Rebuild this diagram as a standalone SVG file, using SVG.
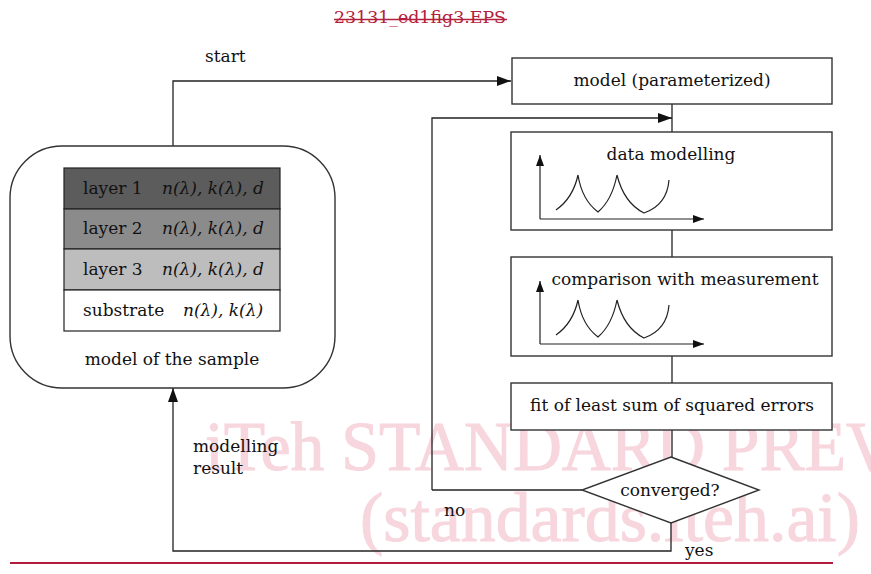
<svg xmlns="http://www.w3.org/2000/svg" width="871" height="574" viewBox="0 0 871 574">
<defs>
<marker id="ah" markerWidth="14" markerHeight="10" refX="14" refY="5" orient="auto" markerUnits="userSpaceOnUse"><path d="M0,0 L14,5 L0,10 Z" fill="#111"/></marker>
<marker id="as" markerWidth="11" markerHeight="8" refX="11" refY="4" orient="auto" markerUnits="userSpaceOnUse"><path d="M0,0 L11,4 L0,8 Z" fill="#111"/></marker>
<style>
.t{font-family:"DejaVu Serif","Liberation Serif",serif;font-size:17px;fill:#111}
.ti{font-family:"DejaVu Serif","Liberation Serif",serif;font-size:17px;font-style:italic;fill:#111}
.box{fill:#fff;stroke:#333;stroke-width:1.4}
.ln{fill:none;stroke:#222;stroke-width:1.3}
.cv{fill:none;stroke:#222;stroke-width:1.2}
.wm{font-family:"Liberation Serif",serif;font-size:70px;fill:#f7d6de;stroke:#f7d6de;stroke-width:1}
</style>
</defs>
<rect width="871" height="574" fill="#fff"/>
<g id="watermark">
<text class="wm" x="205" y="470" textLength="690" lengthAdjust="spacingAndGlyphs">iTeh STANDARD PREV</text>
<text class="wm" x="360" y="541" textLength="500" lengthAdjust="spacingAndGlyphs">(standards.iteh.ai)</text>
</g>
<g id="title">
<text x="420" y="23" text-anchor="middle" textLength="172" lengthAdjust="spacingAndGlyphs" style="font-family:'DejaVu Serif','Liberation Serif',serif;font-size:17px;fill:#b3203c">23131_ed1fig3.EPS</text>
<line x1="334" y1="19.5" x2="507" y2="19.5" stroke="#b3203c" stroke-width="1.6"/>
</g>
<g id="connectors">
<path class="ln" d="M173,146 V81 H511" marker-end="url(#ah)"/>
<path class="ln" d="M672,104 V132"/>
<path class="ln" d="M432,490 V118 H672" marker-end="url(#ah)"/>
<path class="ln" d="M672,230 V257"/>
<path class="ln" d="M672,356 V383"/>
<path class="ln" d="M672,430 V457"/>
<path class="ln" d="M582,490 H432"/>
<path class="ln" d="M671,523 V551 H173 V388" marker-end="url(#ah)"/>
<text class="t" x="205" y="62">start</text>
<text class="t" x="444" y="516">no</text>
<text class="t" x="685" y="556">yes</text>
<text class="t" x="193" y="452">modelling</text>
<text class="t" x="193" y="474">result</text>
</g>
<g id="sample">
<rect class="box" x="10" y="146" width="325" height="242" rx="52" ry="52"/>
<rect x="64" y="168" width="216" height="41" fill="#5c5c5c" stroke="#222" stroke-width="1.2"/>
<rect x="64" y="209" width="216" height="40" fill="#8b8b8b" stroke="#222" stroke-width="1.2"/>
<rect x="64" y="249" width="216" height="41" fill="#bdbdbd" stroke="#222" stroke-width="1.2"/>
<rect x="64" y="290" width="216" height="41" fill="#fff" stroke="#222" stroke-width="1.2"/>
<text class="t" x="83" y="194">layer 1</text><text class="ti" x="162" y="194">n(λ), k(λ), d</text>
<text class="t" x="83" y="234">layer 2</text><text class="ti" x="162" y="234">n(λ), k(λ), d</text>
<text class="t" x="83" y="275">layer 3</text><text class="ti" x="162" y="275">n(λ), k(λ), d</text>
<text class="t" x="83" y="316">substrate</text><text class="ti" x="183" y="316">n(λ), k(λ)</text>
<text class="t" x="172" y="365" text-anchor="middle">model of the sample</text>
</g>
<g id="model">
<rect class="box" x="512" y="58" width="320" height="46"/>
<text class="t" x="672" y="86" text-anchor="middle">model (parameterized)</text>
</g>
<g id="datamodelling">
<rect class="box" x="511" y="132" width="321" height="98"/>
<text class="t" x="671" y="160" text-anchor="middle">data modelling</text>
<path class="cv" d="M540,219 V155" marker-end="url(#as)"/>
<path class="cv" d="M540,219 H704" marker-end="url(#as)"/>
<path class="cv" d="M556,210 Q573,198 578,175 Q582,200 598,212 Q612,200 617,175 Q624,203 644,213 Q667,205 669,180"/>
</g>
<g id="comparison">
<rect class="box" x="511" y="257" width="321" height="99"/>
<text class="t" x="685" y="285" text-anchor="middle">comparison with measurement</text>
<path class="cv" d="M540,344 V281" marker-end="url(#as)"/>
<path class="cv" d="M540,344 H704" marker-end="url(#as)"/>
<path class="cv" d="M556,335 Q573,323 578,300 Q582,325 598,337 Q612,325 617,300 Q624,328 644,338 Q667,330 669,305"/>
</g>
<g id="fit">
<rect class="box" x="511" y="383" width="321" height="47"/>
<text class="t" x="672" y="411" text-anchor="middle">fit of least sum of squared errors</text>
</g>
<g id="converged">
<polygon class="box" points="671,457 759,490 671,523 582,490"/>
<text class="t" x="670" y="496" text-anchor="middle">converged?</text>
</g>
<line x1="10" y1="563" x2="833" y2="563" stroke="#b01e3c" stroke-width="2"/>
</svg>
